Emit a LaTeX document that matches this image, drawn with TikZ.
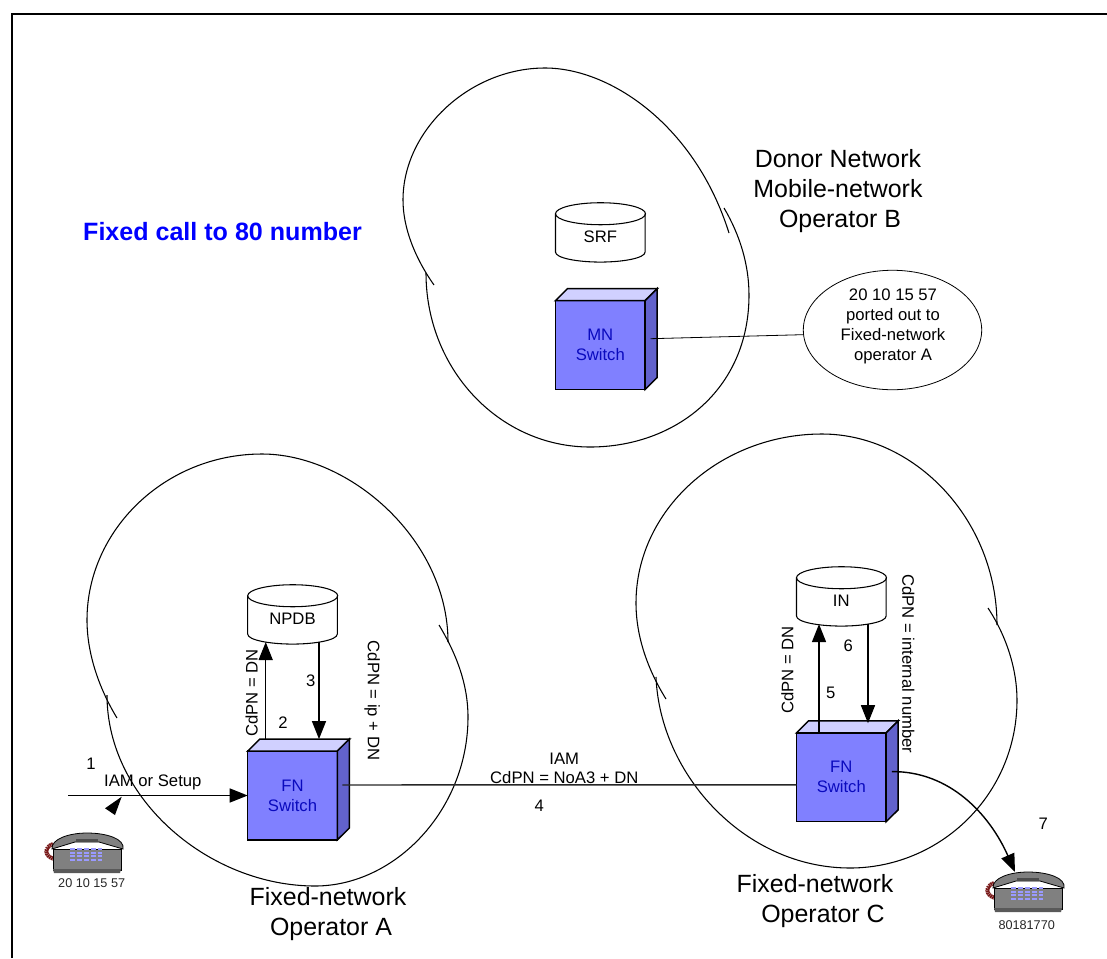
\documentclass[tikz,border=0pt]{standalone}
\usepackage{fontspec}
\setmainfont{Liberation Sans}
\usetikzlibrary{arrows.meta,shapes.geometric}
\definecolor{boxfront}{RGB}{128,128,255}
\definecolor{boxtop}{RGB}{208,208,255}
\definecolor{boxside}{RGB}{98,98,204}
\definecolor{boxtext}{RGB}{10,10,190}
\definecolor{cordred}{RGB}{120,25,25}
\tikzset{
  bigtext/.style={align=center,inner sep=0pt,font=\fontsize{18.7}{22.5}\selectfont},
  midtext/.style={align=center,inner sep=0pt,font=\fontsize{12.5}{15}\selectfont},
  smalltext/.style={align=center,inner sep=0pt,font=\fontsize{9.5}{11}\selectfont,black!85},
  cloudline/.style={line width=0.8pt},
  switchfront/.style={draw,line width=1.1pt,fill=boxfront,text=boxtext,minimum width=67.2pt,minimum height=66.6pt,
    inner sep=0pt,outer sep=0pt,align=center,font=\fontsize{12.5}{15}\selectfont},
  database/.style={minimum width=67.2pt,minimum height=44.5pt,inner sep=0pt,outer sep=0pt,text height=15.8pt,text depth=0pt,
    font=\fontsize{12.5}{15}\selectfont},
  flow/.style={line width=1.05pt,-{Triangle[length=13.5pt,width=10.5pt]}},
  phone/.pic={
    \draw[cordred,line width=3pt,dash pattern=on 1.2pt off 0.4pt] (-34,-9) .. controls (-43,-6) and (-43,3) .. (-33,6);
    \draw[black,line width=0.5pt,fill=black!50] (-34,-4) -- (-34,17) -- (34,17) -- (34,-4) -- cycle;
    \fill[black!65] (-34,16) -- (34,16) -- (33,20) -- (-33,20) -- cycle;
    \draw[black,line width=0.6pt,fill=black!50] (-35,-4) .. controls (-36,-14) and (-18,-20) .. (0,-20)
      .. controls (20,-20) and (38,-14) .. (36,-4) -- (12,-11) -- (-12,-11) -- cycle;
    \fill[black!70] (-11,-14) rectangle (11,-11);
    \foreach \keyrow in {-4,0,3,7}
      \draw[boxfront!80!white,line width=1.3pt,dash pattern=on 4pt off 1.2pt] (-17,\keyrow) -- (15,\keyrow);
  }
}
\newcommand{\cubefaces}[1]{%
  \draw[line width=1.1pt,fill=boxtop] (#1.north west) -- ++(12,-12) -- ++(90,0) -- (#1.north east) -- cycle;
  \draw[line width=1.1pt,fill=boxside] (#1.north east) -- ++(12,-12) -- ++(0,89) -- (#1.south east) -- cycle;
}
\newcommand{\dbdrum}[1]{%
  \draw[line width=0.8pt] ([shift={(45,11)}]#1.north west) ellipse [x radius=45,y radius=11];
  \draw[line width=0.8pt] ([shift={(0,11)}]#1.north west) -- ([shift={(0,-10)}]#1.south west)
    .. controls ([shift={(0,-4)}]#1.south west) and ([shift={(22,0)}]#1.south west) .. (#1.south)
    .. controls ([shift={(-22,0)}]#1.south east) and ([shift={(0,-4)}]#1.south east) .. ([shift={(0,-10)}]#1.south east)
    -- ([shift={(0,11)}]#1.north east);
}
\begin{document}
\begin{tikzpicture}[x=0.75pt,y=-0.75pt]
    \useasboundingbox (0,0) rectangle (1107,958);

    % Frame
    \draw[line width=1.5pt] (12,958) -- (12,14) -- (1107,14);

    % Title
    \node[bigtext,blue,font=\fontsize{18.8}{22.5}\selectfont\bfseries] (title) at (222.5,232) {Fixed call to 80 number};

    % Cloud of operator B
    \draw[cloudline] (434,285) .. controls (415,258) and (403,228) .. (403,200)
      .. controls (403,130) and (470,68) .. (545,68)
      .. controls (610,68) and (695,125) .. (729,233);
    \draw[cloudline] (724,208) .. controls (740,235) and (749,265) .. (749,295)
      .. controls (749,390) and (675,447) .. (590,447)
      .. controls (500,447) and (426,370) .. (426,273);

    % Cloud of operator A
    \draw[cloudline] (117,718) .. controls (100,690) and (87,655) .. (87,620)
      .. controls (87,530) and (165,454) .. (262,454)
      .. controls (350,454) and (448,540) .. (448,642);
    \draw[cloudline] (439,625) .. controls (457,655) and (468,685) .. (468,717)
      .. controls (468,810) and (395,886) .. (315,886)
      .. controls (210,886) and (107,800) .. (107,695);

    % Cloud of operator C
    \draw[cloudline] (666,699) .. controls (648,670) and (636,637) .. (636,603)
      .. controls (636,510) and (720,434) .. (822,434)
      .. controls (915,434) and (997,520) .. (997,625);
    \draw[cloudline] (988,608) .. controls (1007,637) and (1017,670) .. (1017,700)
      .. controls (1017,795) and (940,868) .. (850,868)
      .. controls (745,868) and (660,775) .. (656,677);

    % Switches
    \node[switchfront] (mnSwitch) at (600.3,345) {MN\\Switch};
    \cubefaces{mnSwitch}
    \node[switchfront] (fnA) at (292.5,795.5) {FN\\Switch};
    \cubefaces{fnA}
    \node[switchfront] (fnC) at (841.3,777.3) {FN\\Switch};
    \cubefaces{fnC}

    % Databases
    \node[database] (srf) at (600.3,232.4) {SRF};
    \dbdrum{srf}
    \node[database] (npdb) at (292.5,614.4) {NPDB};
    \dbdrum{npdb}
    \node[database] (inDb) at (841.3,596.4) {IN};
    \dbdrum{inDb}

    % Ported number note
    \node[draw,ellipse,line width=0.6pt,minimum width=133.8pt,minimum height=89.6pt,inner sep=0pt,outer sep=0pt] (ported) at (892.5,330) {};
    \node[midtext] (portedText) at (893,326) {20 10 15 57\\ported out to\\Fixed-network\\operator A};
    \draw[line width=0.6pt] ([shift={(5.4,-6.3)}]mnSwitch.east) -- (ported.183);

    % Phones
    \pic at (87,853) {phone};
    \coordinate (phoneA) at (87,853);
    \pic at (1028,892) {phone};
    \coordinate (phoneB) at (1028,892);
    \node[smalltext] (numberA) at (91.7,882.7) {20 10 15 57};
    \node[smalltext] (numberB) at (1026.7,925) {80181770};

    % Incoming call
    \coordinate (callIn) at (68,795.5);
    \draw[flow] (callIn) -- (fnA.west);
    \fill ([shift={(34.7,-56.3)}]phoneA) -- ([shift={(18,-44.7)}]phoneA) -- ([shift={(28,-38)}]phoneA) -- cycle;
    \node[midtext] (step1) at (91,764) {1};
    \node[midtext] (iamSetup) at (152.8,782.5) {IAM or Setup};

    % Operator A query
    \draw[flow] ([shift={(-26.8,-12)}]fnA.north) -- ([shift={(-26.8,-2)}]npdb.south);
    \draw[flow] ([shift={(26.5,-2)}]npdb.south) -- ([shift={(26.5,-12)}]fnA.north);
    \node[midtext] (step2) at (283,722.7) {2};
    \node[midtext] (step3) at (310.7,681) {3};
    \node[midtext,rotate=90] (dnA) at (251.7,693) {CdPN = DN};
    \node[midtext,rotate=-90] (ipA) at (372.3,700.5) {CdPN = ip + DN};

    % Trunk between A and C
    \draw[line width=1.1pt,black!85] ([shift={(5,-10.5)}]fnA.east) -- ([yshift=-5.6pt]fnC.west);
    \node[midtext] (iamTrunk) at (564.3,758.3) {IAM};
    \node[midtext] (noaTrunk) at (564.3,778) {CdPN = NoA3 + DN};
    \node[midtext] (step4) at (539.3,805.7) {4};

    % Operator C query
    \draw[flow] ([shift={(-22.3,0)}]fnC.north) -- ([shift={(-22.3,-2)}]inDb.south);
    \draw[flow] ([shift={(26.7,-2)}]inDb.south) -- ([shift={(26.7,-9.7)}]fnC.north);
    \node[midtext] (step5) at (830.7,693) {5};
    \node[midtext] (step6) at (848.3,645.7) {6};
    \node[midtext,rotate=90] (dnC) at (787.3,670) {CdPN = DN};
    \node[midtext,rotate=-90] (intC) at (908.3,663.7) {CdPN = internal number};

    % Delivery to the called phone
    \draw[flow] ([shift={(5.7,-5.7)}]fnC.east) .. controls (950,771) and (990,815) .. ([shift={(-13,-20)}]phoneB);
    \node[midtext] (step7) at (1043.3,823.3) {7};

    % Operator names
    \node[bigtext] (nameB) at (838,191) {Donor Network\\Mobile-network\\\hspace*{3pt}Operator B};
    \node[bigtext] (nameA) at (328,914) {Fixed-network\\\hspace*{4.5pt}Operator A};
    \node[bigtext] (nameC) at (815,901) {Fixed-network\\\hspace*{12pt}Operator C};
\end{tikzpicture}
\end{document}
